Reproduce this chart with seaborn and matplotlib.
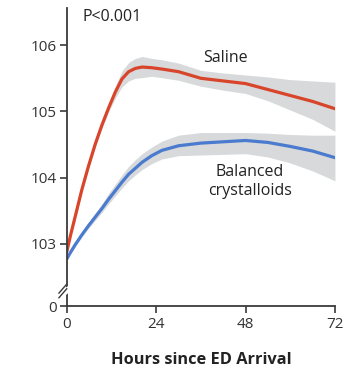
import matplotlib
matplotlib.use("Agg")
import matplotlib.pyplot as plt
import pandas as pd
import seaborn as sns

# Data (hours since ED arrival, mean + band bounds)
hours = [0, 1, 2.2, 4, 5.8, 7.6, 9.4, 11.2, 13, 14.8, 16.6, 18.4, 20.2, 22.8, 25.5,
         30, 36, 42, 48, 54, 60, 66, 72]

saline = [102.88, 103.13, 103.40, 103.81, 104.17, 104.50, 104.79, 105.05, 105.29, 105.49,
          105.60, 105.65, 105.67, 105.66, 105.64, 105.60, 105.50, 105.46, 105.42, 105.33,
          105.24, 105.15, 105.04]
saline_lo = [102.86, 103.11, 103.37, 103.78, 104.13, 104.46, 104.74, 104.99, 105.20, 105.37,
             105.46, 105.50, 105.51, 105.53, 105.51, 105.47, 105.38, 105.32, 105.27, 105.16,
             105.02, 104.88, 104.70]
saline_hi = [102.90, 103.15, 103.43, 103.84, 104.21, 104.54, 104.84, 105.11, 105.38, 105.61,
             105.74, 105.80, 105.83, 105.80, 105.78, 105.73, 105.62, 105.58, 105.55, 105.52,
             105.48, 105.46, 105.44]

balanced = [102.77, 102.87, 102.98, 103.13, 103.27, 103.40, 103.53, 103.67, 103.80, 103.93,
            104.05, 104.14, 104.23, 104.33, 104.41, 104.48, 104.52, 104.54, 104.56, 104.53,
            104.47, 104.40, 104.30]
balanced_lo = [102.75, 102.85, 102.95, 103.10, 103.23, 103.35, 103.47, 103.60, 103.72, 103.84,
               103.95, 104.04, 104.12, 104.21, 104.28, 104.33, 104.34, 104.35, 104.36, 104.31,
               104.22, 104.10, 103.95]
balanced_hi = [102.79, 102.89, 103.01, 103.17, 103.32, 103.46, 103.60, 103.76, 103.90, 104.04,
               104.17, 104.27, 104.36, 104.46, 104.55, 104.64, 104.68, 104.68, 104.68, 104.67,
               104.65, 104.64, 104.64]

y_ticks = [102.055, 103, 104, 105, 106]
y_labels = ["0", "103", "104", "105", "106"]
x_ticks = [0, 24, 48, 72]

RED = "#d8452a"
BLUE = "#4a7bce"
BAND = "#d7d9db"
AXIS = "#3a3a3a"

sns.set_style("ticks")
plt.rcParams["font.family"] = ["Open Sans", "DejaVu Sans"]

df = pd.DataFrame({
    "hours": hours * 2,
    "value": saline + balanced,
    "group": ["Saline"] * len(hours) + ["Balanced"] * len(hours),
})

fig = plt.figure(figsize=(3.5, 3.72), dpi=100)
ax = fig.add_axes([0.191, 0.177, 0.766, 0.801])

# Confidence bands first
ax.fill_between(hours, saline_lo, saline_hi, color=BAND, lw=0)
ax.fill_between(hours, balanced_lo, balanced_hi, color=BAND, lw=0)

sns.lineplot(data=df, x="hours", y="value", hue="group",
             palette={"Saline": RED, "Balanced": BLUE},
             linewidth=2.3, legend=False, ax=ax)
for line in ax.get_lines():
    line.set_solid_joinstyle("round")

ax.set_xlim(0, 72)
ax.set_ylim(102.055, 106.56)
ax.set_xticks(x_ticks)
ax.set_yticks(y_ticks)
ax.set_yticklabels(y_labels)
ax.set_ylabel("")
ax.set_xlabel("Hours since ED Arrival", fontsize=11.8, fontweight="bold",
              color="#222222", labelpad=14.5)

sns.despine(ax=ax)
for side in ["left", "bottom"]:
    ax.spines[side].set_color(AXIS)
    ax.spines[side].set_linewidth(1.3)
ax.tick_params(axis="both", colors=AXIS, labelcolor="#333333", labelsize=11,
               width=1.2, length=5, direction="out")
ax.tick_params(axis="x", pad=3)
ax.tick_params(axis="y", pad=2)

# Axis break marks on the y axis
yb = 102.31
trans = ax.get_yaxis_transform()
ax.plot([-0.012, 0.012], [yb - 0.06, yb + 0.02], transform=trans, color="white",
        lw=4, clip_on=False, zorder=5)
for dy in (-0.05, 0.02):
    ax.plot([-0.03, 0.0], [yb - 0.08 + dy, yb + 0.06 + dy], transform=trans,
            color=AXIS, lw=1.0, clip_on=False, zorder=6)

# Annotations
ax.text(12.1, 106.43, "P<0.001", fontsize=11.5, color="#222222", ha="center", va="center")
ax.text(42.5, 105.80, "Saline", fontsize=11.5, color="#222222", ha="center", va="center")
ax.text(49.2, 103.94, "Balanced\ncrystalloids", fontsize=11.5, color="#222222",
        ha="center", va="center", linespacing=1.3)

fig.savefig("out.png", dpi=100)
